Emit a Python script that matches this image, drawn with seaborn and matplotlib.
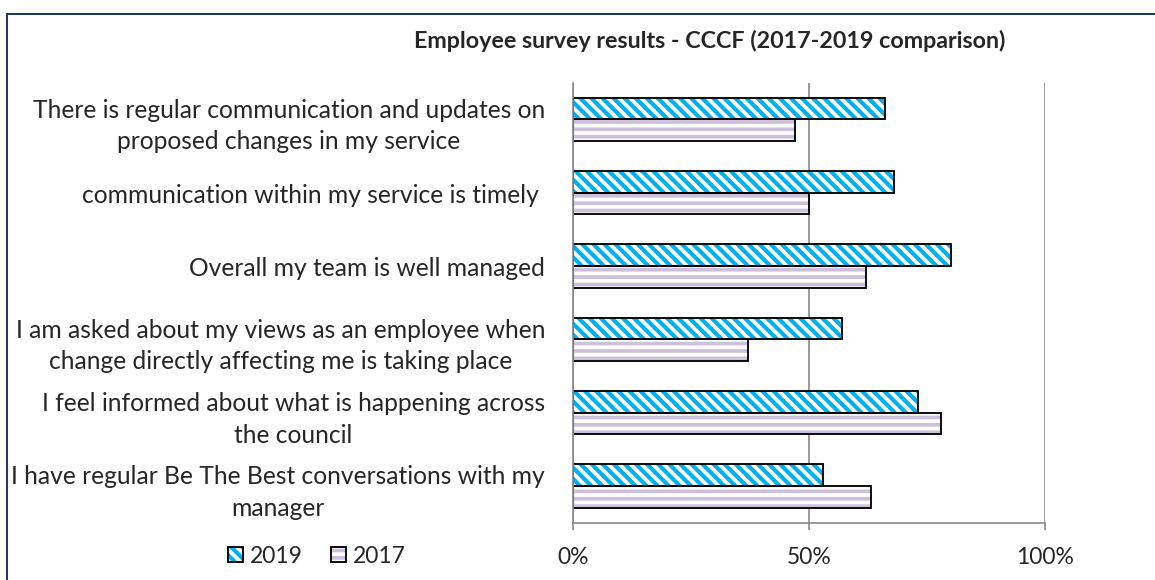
import matplotlib
matplotlib.use("Agg")
import matplotlib.pyplot as plt
import seaborn as sns
import pandas as pd
import numpy as np
from matplotlib.patches import Rectangle, Patch
from matplotlib.legend_handler import HandlerTuple
from matplotlib.ticker import FuncFormatter

# survey questions (top to bottom) and % agreeing
questions = [
    "There is regular communication and updates on\nproposed changes in my service",
    "communication within my service is timely ",
    "Overall my team is well managed",
    "I am asked about my views as an employee when\nchange directly affecting me is taking place",
    "I feel informed about what is happening across\nthe council",
    "I have regular Be The Best conversations with my\nmanager",
]
score_2019 = [66, 68, 80, 57, 73, 53]
score_2017 = [47, 50, 62, 37, 78, 63]
years = ["2019", "2017"]
x_ticks = [0, 50, 100]
title = "Employee survey results - CCCF (2017-2019 comparison)"

DPI = 400 / 3
FS = 12.4      # ticks / legend
FS_CAT = 13.3  # question labels
sns.set_style("white")
plt.rcParams["font.family"] = ["Lato", "DejaVu Sans"]
plt.rcParams["hatch.linewidth"] = 2.0

df = pd.DataFrame({
    "question": questions * 2,
    "score": score_2019 + score_2017,
    "year": [years[0]] * len(questions) + [years[1]] * len(questions),
})

fills = {"2019": "#00B0F0", "2017": "white"}
stripes = {"2019": "white", "2017": "#CCC0DA"}
hatches = {"2019": "\\\\\\\\", "2017": "---"}
grey = "#898989"

fig = plt.figure(figsize=(1155.4 / DPI, 580.4 / DPI), dpi=DPI)
ax = fig.add_axes([572.7 / 1155, (580 - 522.7) / 580,
                   (1045 - 572.7) / 1155, (522.7 - 83) / 580])

sns.barplot(data=df, x="score", y="question", hue="year", hue_order=years,
            palette=fills, saturation=1, width=0.59, errorbar=None,
            legend=False, ax=ax)

# bars: striped fill + black outline on top
for year, bars in zip(years, ax.containers):
    for bar in bars:
        bar.set_facecolor(fills[year])
        bar.set_edgecolor(stripes[year])
        bar.set_hatch(hatches[year])
        bar.set_linewidth(0)
        ax.add_patch(Rectangle(bar.get_xy(), bar.get_width(), bar.get_height(),
                               fill=False, edgecolor="black", linewidth=1.0,
                               zorder=bar.get_zorder() + 0.1))

ax.set_xlim(0, 100)
ax.set_xticks(x_ticks)
ax.xaxis.set_major_formatter(FuncFormatter(lambda v, p: f"{v:.0f}%"))
ax.xaxis.grid(True, color=grey, linewidth=0.9)
ax.set_axisbelow(True)
ax.set_xlabel("")
ax.set_ylabel("")

ax.set_yticks(np.arange(-0.5, len(questions), 1), minor=True)
ax.tick_params(axis="y", which="major", length=0, pad=15, labelsize=FS_CAT)
ax.tick_params(axis="y", which="minor", length=4.3, width=0.9, color=grey)
ax.tick_params(axis="x", which="major", length=3.8, width=0.9, color=grey,
               pad=9, labelsize=FS, bottom=True)
for lbl in ax.get_yticklabels():
    lbl.set_multialignment("center")
    lbl.set_linespacing(1.45)

for side in ["top", "right"]:
    ax.spines[side].set_visible(False)
for side in ["left", "bottom"]:
    ax.spines[side].set_color(grey)
    ax.spines[side].set_linewidth(0.9)

fig.text(709 / 1155, (580 - 41) / 580, title, ha="center", va="center",
         fontsize=12.6, fontweight="bold")

handles = []
for year in years:
    base = Patch(facecolor=fills[year], edgecolor=stripes[year],
                 hatch=hatches[year], linewidth=0)
    edge = Patch(facecolor="none", edgecolor="black", linewidth=1.0)
    handles.append((base, edge))
fig.legend(handles, years, handler_map={tuple: HandlerTuple(ndivide=1, pad=0)},
           loc="center left", bbox_to_anchor=(228 / 1155, (580 - 556) / 580),
           ncol=2, frameon=False, borderpad=0, borderaxespad=0,
           handlelength=0.65, handleheight=0.65, handletextpad=0.3,
           columnspacing=1.25, fontsize=FS)

# dark blue chart border (only top/left visible in the crop)
fig.add_artist(Rectangle((7 / 1155, -0.1), 1.2, (580 - 14) / 580 + 0.1,
                         transform=fig.transFigure, fill=False,
                         edgecolor="#1F3864", linewidth=1.1))

fig.savefig("out.png", dpi=DPI)
